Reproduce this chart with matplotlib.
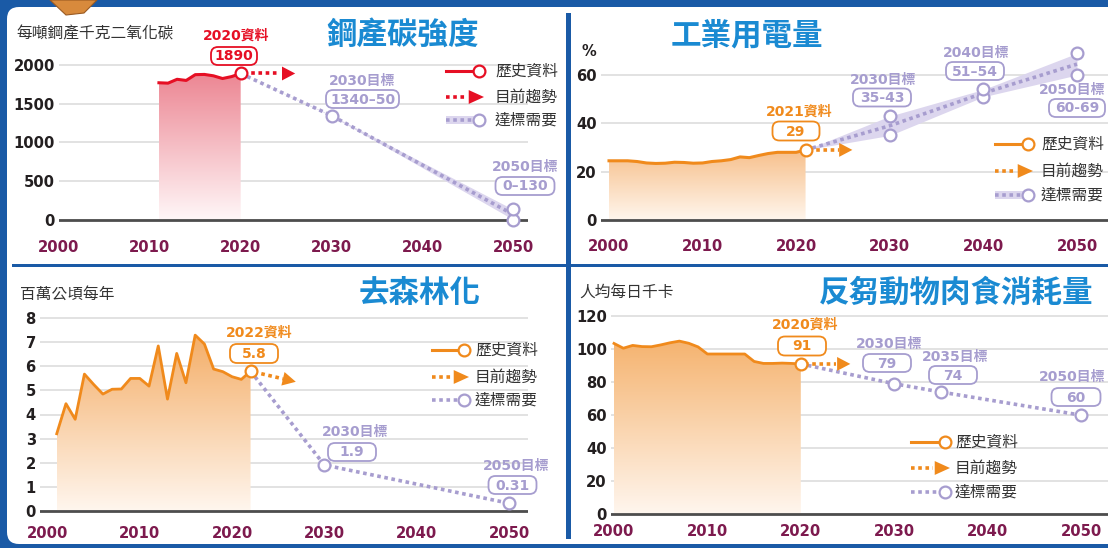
import numpy as np
import matplotlib
matplotlib.use("Agg")
import matplotlib.pyplot as plt
from matplotlib.patches import FancyBboxPatch, Rectangle, Polygon
from matplotlib.colors import to_rgb

plt.rcParams['font.family'] = ['Noto Sans CJK TC', 'DejaVu Sans']

W, H = 1108, 548

# ---------------- data ----------------
x_ticks = [2000, 2010, 2020, 2030, 2040, 2050]

steel_years = [2011, 2012, 2013, 2014, 2015, 2016, 2017, 2018, 2019, 2020]
steel_hist = [1770, 1765, 1815, 1800, 1875, 1878, 1860, 1825, 1850, 1890]
steel_trend_years = [2020, 2026]
steel_trend_vals = [1890, 1890]
steel_target_years = [2020, 2030, 2050]
steel_target_low = [1890, 1340, 0]
steel_target_high = [1890, 1350, 130]
steel_yticks = [0, 500, 1000, 1500, 2000]

power_years = list(range(2000, 2022))
power_hist = [24.5, 24.5, 24.5, 24.2, 23.6, 23.4, 23.5, 23.9, 23.8, 23.5, 23.6,
              24.2, 24.5, 25.0, 26.1, 25.8, 26.7, 27.5, 28.0, 28.0, 28.0, 29]
power_trend_years = [2021, 2026]
power_trend_vals = [29, 29]
power_target_years = [2021, 2030, 2040, 2050]
power_target_low = [29, 35, 51, 60]
power_target_high = [29, 43, 54, 69]
power_yticks = [0, 20, 40, 60]

forest_years = list(range(2001, 2023))
forest_hist = [3.2, 4.45, 3.8, 5.68, 5.25, 4.85, 5.05, 5.06, 5.5, 5.5, 5.18,
               6.85, 4.64, 6.54, 5.32, 7.3, 6.93, 5.89, 5.78, 5.57, 5.46, 5.8]
forest_trend_years = [2022, 2026.9]
forest_trend_vals = [5.8, 5.36]
forest_target_years = [2022, 2030, 2050]
forest_target_vals = [5.8, 1.9, 0.31]
forest_yticks = [0, 1, 2, 3, 4, 5, 6, 7, 8]

meat_years = list(range(2000, 2021))
meat_hist = [103.4, 100.5, 102.2, 101.5, 101.4, 102.5, 103.8, 104.8, 103.5, 101.3,
             97, 97, 97, 97, 97, 92.5, 91.3, 91.3, 91.5, 91.3, 91]
meat_trend_years = [2020, 2025.3]
meat_trend_vals = [91, 91]
meat_target_years = [2020, 2030, 2035, 2050]
meat_target_vals = [91, 79, 74, 60]
meat_yticks = [0, 20, 40, 60, 80, 100, 120]

titles = ['鋼產碳強度', '工業用電量', '去森林化', '反芻動物肉食消耗量']
units = ['每噸鋼產千克二氧化碳', '%', '百萬公頃每年', '人均每日千卡']
legend_labels = ['歷史資料', '目前趨勢', '達標需要']

# ---------------- style ----------------
FRAME = '#1a5aa6'
TITLE = '#1a8ad2'
MAROON = '#7d1a4e'
RED = '#e60f24'
ORANGE = '#f08a1c'
LAV = '#a79dcf'
LAVTXT = '#a69dcf'
BAND = '#dcd6ee'
GRID = '#e2e2e2'
DARK = '#231f20'
DOT = (0, (1, 1))
NUMFONT = ['DejaVu Sans', 'Noto Sans CJK TC']

fig = plt.figure(figsize=(W / 100, H / 100), dpi=100)
fig.patch.set_facecolor(FRAME)

# background / frame
bg = fig.add_axes([0, 0, 1, 1], zorder=0)
bg.set_xlim(0, W); bg.set_ylim(H, 0); bg.axis('off')
bg.add_patch(FancyBboxPatch((7, 7), W + 40, 537, boxstyle='round,pad=0,rounding_size=12',
                            fc='white', ec='none'))
bg.add_patch(Rectangle((12, 263.5), W, 3.2, fc=FRAME, ec='none'))
bg.add_patch(Rectangle((566, 13), 5, 526, fc=FRAME, ec='none'))
bg.add_patch(Polygon([(50, 0), (97, 0), (84, 13), (66, 15)], closed=True, fc='#d88a3c', ec='#9a5a22', lw=0.8))


def make_panel(l, r, t, b, x2000_px, x2050_px, y0_px, yv_px, yv):
    sx = (x2050_px - x2000_px) / 50.0
    sy = (y0_px - yv_px) / float(yv)
    ax = fig.add_axes([l / W, 1 - b / H, (r - l) / W, (b - t) / H], zorder=1)
    xlim = (2000 + (l - x2000_px) / sx, 2000 + (r - x2000_px) / sx)
    ylim = ((y0_px - b) / sy, (y0_px - t) / sy)
    ax.patch.set_alpha(0)
    for s in ax.spines.values():
        s.set_visible(False)
    return ax, xlim, ylim


def finish(ax, xlim, ylim, yticks, b, xlabel_center):
    ax.set_xlim(xlim); ax.set_ylim(ylim)
    ax.set_yticks(yticks)
    ax.set_yticklabels([str(v) for v in yticks], fontfamily='DejaVu Sans',
                       fontweight='bold', fontsize=10.6, color=DARK)
    ax.set_xticks(x_ticks)
    ax.set_xticklabels([str(v) for v in x_ticks], fontfamily='DejaVu Sans',
                       fontweight='bold', fontsize=10.6, color=MAROON)
    ax.tick_params(axis='y', length=0, pad=3)
    ax.tick_params(axis='x', length=0, pad=(xlabel_center - b - 8.5) * 0.72)
    ax.grid(axis='y', color=GRID, lw=1.4)
    ax.grid(axis='x', visible=False)
    ax.set_axisbelow(True)
    ax.axhline(0, color='#4d4d4d', lw=2, zorder=2)


def grad_fill(ax, x, y, c_top, c_bot):
    x = np.asarray(x, float); y = np.asarray(y, float)
    poly = ax.fill_between(x, y, 0, facecolor='none', edgecolor='none')
    top = np.array(to_rgb(c_top)); bot = np.array(to_rgb(c_bot))
    t = np.linspace(0, 1, 256)[:, None, None]
    img = bot + (top - bot) * t
    im = ax.imshow(img, extent=[x.min(), x.max(), 0, y.max()], origin='lower',
                   aspect='auto', zorder=1.5, interpolation='bilinear')
    im.set_clip_path(poly.get_paths()[0], transform=ax.transData)


def circle(ax, x, y, color, ms=8.5):
    ax.plot(x, y, 'o', mfc='white', mec=color, ms=ms, mew=1.6, zorder=7, clip_on=False)


def trend(ax, xs, ys, color, frac=0.72):
    xs = np.asarray(xs, float); ys = np.asarray(ys, float)
    xm = xs[0] + (xs[1] - xs[0]) * frac
    ym = ys[0] + (ys[1] - ys[0]) * frac
    ax.plot([xs[0] + 0.4, xm], [ys[0] + (ys[1] - ys[0]) * 0.4 / (xs[1] - xs[0]), ym],
            color=color, ls=DOT, lw=2.6, zorder=6)
    ax.annotate('', xy=(xs[1], ys[1]), xytext=(xm, ym),
                arrowprops=dict(arrowstyle='-|>,head_length=0.95,head_width=0.5',
                                color=color, lw=0, shrinkA=0, shrinkB=0, mutation_scale=10),
                zorder=6, annotation_clip=False)


# ---------------- panel 1: steel ----------------
ax1, xl, yl = make_panel(59, 528, 40, 225, 52, 513, 219.5, 65, 2000)
grad_fill(ax1, steel_years, steel_hist, '#ec8592', '#fff6f7')
ax1.plot(steel_years, steel_hist, color=RED, lw=2.2, zorder=5)
mid1 = [(a + b) / 2 for a, b in zip(steel_target_low, steel_target_high)]
ax1.fill_between(steel_target_years, steel_target_low, steel_target_high, color=BAND, lw=0, zorder=3)
ax1.plot(steel_target_years, mid1, color=LAV, ls=DOT, lw=2.6, zorder=4)
trend(ax1, steel_trend_years, steel_trend_vals, RED)
circle(ax1, steel_years[-1], steel_hist[-1], RED)
for yr, lo, hi in zip(steel_target_years[1:], steel_target_low[1:], steel_target_high[1:]):
    if hi - lo > 40:
        circle(ax1, yr, lo, LAV); circle(ax1, yr, hi, LAV)
    else:
        circle(ax1, yr, (lo + hi) / 2, LAV)
finish(ax1, xl, yl, steel_yticks, 225, 248)

# ---------------- panel 2: power ----------------
ax2, xl, yl = make_panel(601, 1108, 40, 224, 609, 1077, 220, 75, 60)
grad_fill(ax2, power_years, power_hist, '#f7bf8a', '#fff6ed')
ax2.plot(power_years, power_hist, color=ORANGE, lw=2.2, zorder=5)
mid2 = [(a + b) / 2 for a, b in zip(power_target_low, power_target_high)]
ax2.fill_between(power_target_years, power_target_low, power_target_high, color=BAND, lw=0, zorder=3)
ax2.plot(power_target_years, mid2, color=LAV, ls=DOT, lw=2.6, zorder=4)
trend(ax2, power_trend_years, power_trend_vals, ORANGE)
circle(ax2, power_years[-1], power_hist[-1], ORANGE)
for yr, lo, hi in zip(power_target_years[1:], power_target_low[1:], power_target_high[1:]):
    circle(ax2, yr, lo, LAV); circle(ax2, yr, hi, LAV)
finish(ax2, xl, yl, power_yticks, 224, 248)

# ---------------- panel 3: forest ----------------
ax3, xl, yl = make_panel(40, 528, 300, 515, 47.5, 509, 510.7, 318.3, 8)
grad_fill(ax3, forest_years, forest_hist, '#f4ae68', '#fff6ee')
ax3.plot(forest_years, forest_hist, color=ORANGE, lw=2.0, zorder=5)
ax3.plot(forest_target_years, forest_target_vals, color=LAV, ls=DOT, lw=2.6, zorder=4)
trend(ax3, forest_trend_years, forest_trend_vals, ORANGE)
circle(ax3, forest_years[-1], forest_hist[-1], ORANGE)
for yr, v in zip(forest_target_years[1:], forest_target_vals[1:]):
    circle(ax3, yr, v, LAV)
finish(ax3, xl, yl, forest_yticks, 515, 535)

# ---------------- panel 4: meat ----------------
ax4, xl, yl = make_panel(611, 1108, 300, 517, 614, 1081, 514.3, 316, 120)
grad_fill(ax4, meat_years, meat_hist, '#f5b36f', '#fff6ee')
ax4.plot(meat_years, meat_hist, color=ORANGE, lw=2.0, zorder=5)
ax4.plot(meat_target_years, meat_target_vals, color=LAV, ls=DOT, lw=2.6, zorder=4)
trend(ax4, meat_trend_years, meat_trend_vals, ORANGE)
circle(ax4, meat_years[-1], meat_hist[-1], ORANGE)
for yr, v in zip(meat_target_years[1:], meat_target_vals[1:]):
    circle(ax4, yr, v, LAV)
finish(ax4, xl, yl, meat_yticks, 517, 533)

# ---------------- overlay: titles, labels, legends ----------------
ov = fig.add_axes([0, 0, 1, 1], zorder=5)
ov.set_xlim(0, W); ov.set_ylim(H, 0); ov.axis('off'); ov.patch.set_alpha(0)

title_pos = [(403, 35, 'center'), (747, 35, 'center'), (420, 293, 'center'), (819, 293, 'left')]
for txt, (x, y, ha) in zip(titles, title_pos):
    ov.text(x, y, txt, ha=ha, va='center', fontsize=22, fontweight='black', color=TITLE)

unit_pos = [(16, 34), (581, 52), (20, 294), (579, 292)]
for txt, (x, y) in zip(units, unit_pos):
    if txt == '%':
        ov.text(x, y, txt, ha='left', va='center', fontsize=10.5, fontweight='bold',
                color=DARK, fontfamily='DejaVu Sans')
    else:
        ov.text(x, y, txt, ha='left', va='center', fontsize=11.3, color='#333333')


def label(cx, cy, text, color):
    ov.text(cx, cy, text, ha='center', va='center', fontsize=10, fontweight='bold',
            color=color, fontfamily=NUMFONT)


def box(cx, cy, text, color, w=48, h=18):
    ov.add_patch(FancyBboxPatch((cx - w / 2, cy - h / 2), w, h,
                                boxstyle='round,pad=0,rounding_size=7',
                                fc='white', ec=color, lw=1.3, zorder=3))
    ov.text(cx, cy + 0.5, text, ha='center', va='center', fontsize=10, fontweight='bold',
            color=color, fontfamily='DejaVu Sans', zorder=4)


# panel 1 annotations
label(236.5, 36, '2020資料', RED); box(234, 56, '1890', RED, 46)
label(362.5, 81, '2030目標', LAVTXT); box(362.5, 99, '1340–50', LAVTXT, 73)
label(525, 167, '2050目標', LAVTXT); box(525, 186, '0–130', LAVTXT, 59)
# panel 2
label(799.5, 112, '2021資料', ORANGE); box(796, 131, '29', ORANGE, 47, 19)
label(883, 80, '2030目標', LAVTXT); box(882, 97.5, '35-43', LAVTXT, 58)
label(976, 53, '2040目標', LAVTXT); box(975, 71, '51–54', LAVTXT, 58)
label(1072, 90, '2050目標', LAVTXT); box(1077, 108, '60-69', LAVTXT, 56)
# panel 3
label(259, 333, '2022資料', ORANGE); box(254, 353.5, '5.8', ORANGE, 48, 19)
label(355, 432, '2030目標', LAVTXT); box(352, 452, '1.9', LAVTXT, 48)
label(516, 466, '2050目標', LAVTXT); box(512.5, 485, '0.31', LAVTXT, 48)
# panel 4
label(805, 325, '2020資料', ORANGE); box(802, 346, '91', ORANGE, 48, 19)
label(889, 344, '2030目標', LAVTXT); box(887, 363, '79', LAVTXT, 48)
label(955, 357, '2035目標', LAVTXT); box(953, 375, '74', LAVTXT, 48)
label(1072, 377, '2050目標', LAVTXT); box(1076, 397, '60', LAVTXT, 49)


def legend(x0, x1, ys, tx, hist_color, band):
    y1, y2, y3 = ys
    ov.plot([x0, x1 - 4], [y1, y1], color=hist_color, lw=2.2, zorder=3)
    ov.plot(x1, y1, 'o', mfc='white', mec=hist_color, ms=8.5, mew=1.6, zorder=4)
    ov.plot([x0, x1 - 12], [y2, y2], color=hist_color, ls=DOT, lw=2.6, zorder=3)
    ov.annotate('', xy=(x1 + 5, y2), xytext=(x1 - 12, y2),
                arrowprops=dict(arrowstyle='-|>,head_length=1.1,head_width=0.5',
                                color=hist_color, lw=0, shrinkA=0, shrinkB=0, mutation_scale=10))
    if band:
        ov.add_patch(Rectangle((x0, y3 - 4), x1 - x0 - 4, 8, fc=BAND, ec='none', zorder=2))
    ov.plot([x0, x1 - 4], [y3, y3], color=LAV, ls=DOT, lw=2.6, zorder=3)
    ov.plot(x1, y3, 'o', mfc='white', mec=LAV, ms=8.5, mew=1.6, zorder=4)
    for txt, y in zip(legend_labels, ys):
        ov.text(tx, y, txt, ha='left', va='center', fontsize=11.3, color='#333333')


legend(446, 479, (71, 97, 120), 495, RED, True)
legend(995, 1028, (144, 171, 195), 1041, ORANGE, True)
legend(432, 464, (350, 377, 400), 475, ORANGE, False)
legend(911, 945, (442, 468, 492), 955, ORANGE, False)

fig.savefig('out.png', dpi=100, facecolor=fig.get_facecolor())
